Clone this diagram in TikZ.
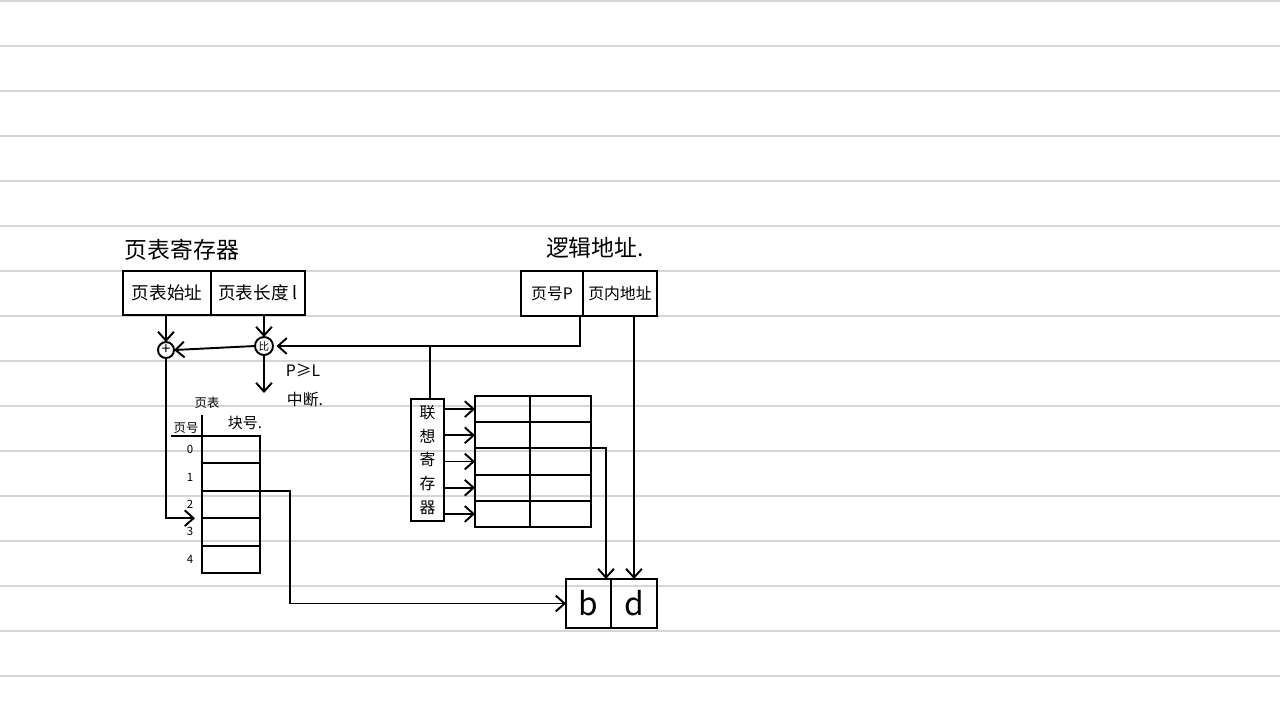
\documentclass[tikz,border=0pt]{standalone}
\usepackage{fontspec}
\setmainfont{Noto Sans CJK SC}
\usetikzlibrary{arrows.meta,positioning}

\tikzset{
  cell/.style={draw, inner sep=0pt, outer sep=0pt, font=\fontsize{10}{12}\selectfont},
  ring/.style={draw, circle, inner sep=0pt, outer sep=0pt},
  note/.style={inner sep=1pt, font=\fontsize{9}{11}\selectfont},
  title/.style={inner sep=1pt, font=\fontsize{13}{15}\selectfont},
  ruled/.style={draw=black!16, line width=0.7pt}
}

\begin{document}
\begin{tikzpicture}[x=0.02cm, y=-0.02cm, line width=1.1pt,
    >={Straight Barb[length=5pt,width=9pt]}]

\useasboundingbox (0,0) rectangle (1280,708);

% ruled paper
\foreach \y in {0,...,15}
    \draw[ruled] (0,1+45*\y) -- (1280,1+45*\y);

% page table register
\node[title] (regtitle) at (182,250) {页表寄存器};
\node[cell, minimum width=1.76cm, minimum height=0.88cm] (base) at (167,293) {页表始址};
\node[cell, minimum width=1.88cm, minimum height=0.88cm, right=0pt of base] (len) {页表长度 l};

% logical address
\node[title] (latitle) at (595,248) {逻辑地址.};
\node[cell, minimum width=1.24cm, minimum height=0.9cm, font=\fontsize{9}{11}\selectfont] (page) at (552,293.5) {页号P};
\node[cell, minimum width=1.48cm, minimum height=0.9cm, font=\fontsize{9}{11}\selectfont, right=0pt of page] (off) {页内地址};

% physical address
\node[cell, minimum width=0.9cm, minimum height=0.98cm, font=\fontsize{18}{20}\selectfont] (bcell) at (588.5,603.5) {b};
\node[cell, minimum width=0.92cm, minimum height=0.98cm, font=\fontsize{18}{20}\selectfont, right=0pt of bcell] (dcell) {d};

% adder and comparator
\node[ring, minimum size=0.32cm, font=\fontsize{9}{9}\selectfont] (add) at (166,350) {+};
\node[ring, minimum size=0.36cm, font=\fontsize{6}{6}\selectfont] (cmp) at (264,346) {比};

\coordinate (j1) at (580,346);
\coordinate (j2) at (430,346);
\coordinate (stop) at (264,393);

\draw[->] (add |- base.south) -- (add.north);
\draw[->] (cmp |- len.south) -- (cmp.north);
\draw[->, shorten >=2pt] (page.south -| j1) -- (j1) -- (cmp.east);
\draw[->] (cmp.west) -- (add.east);
\draw[->] (cmp.south) -- (stop);

\node[note] (over) at (303,370) {P≥L};
\node[note] (intr) at (305,400) {中断.};

% page table
\node[note, font=\fontsize{7}{8}\selectfont] (pttitle) at (207,403) {页表};
\node[note, font=\fontsize{7}{8}\selectfont] (pnohead) at (186,428) {页号};
\node[note, font=\fontsize{8.5}{10}\selectfont] (bnohead) at (245,423) {块号.};

\foreach \i in {0,...,4}{
    \node[cell, minimum width=1.16cm, minimum height=0.548cm] (pt\i) at (231,{449.7+27.4*\i}) {};
    \node[note, font=\fontsize{6.5}{7}\selectfont, left=0.12cm of pt\i] (pn\i) {\i};
}

\draw (pt0.north west) -- ++(0,-21);
\draw (pnohead.south west) -- (pnohead.south west -| pt0.west);

\draw[->, shorten >=4pt] (add.south) |- (pt2.south west);
\draw[->] (pt2.north east) -- ++(30,0) |- (bcell.west);

% associative registers
\node[cell, minimum width=0.66cm, minimum height=2.44cm, align=center,
    font=\fontsize{9}{13.5}\selectfont] (fast) at (427.5,460) {联\\想\\寄\\存\\器};

\draw (j2) -- (j2 |- fast.north);

\foreach \i in {0,...,4}{
    \node[cell, minimum width=1.1cm, minimum height=0.524cm] (tk\i) at (502.5,{409.1+26.2*\i}) {};
    \node[cell, minimum width=1.22cm, minimum height=0.524cm, right=0pt of tk\i] (tf\i) {};
    \draw[->] (fast.east |- tk\i.west) -- (tk\i.west);
}

\draw[->] (tf2.north east) -- ++(15,0) coordinate (turn) -- (turn |- bcell.north);
\draw[->] (dcell.north |- off.south) -- (dcell.north);

\end{tikzpicture}
\end{document}
